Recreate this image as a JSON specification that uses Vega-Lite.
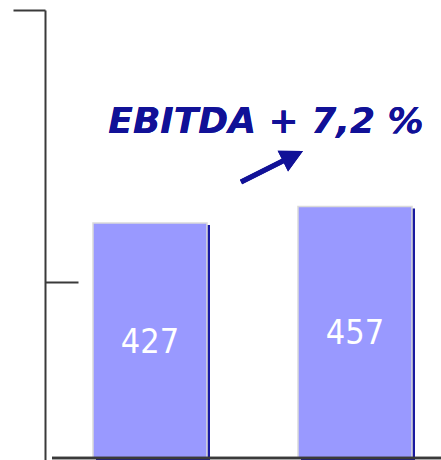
{
  "$schema": "https://vega.github.io/schema/vega-lite/v6.json",
  "autosize": "none",
  "width": 389,
  "height": 450,
  "padding": {"left": 52, "top": 10, "right": 0, "bottom": 0},
  "background": "white",
  "config": {"view": {"stroke": null}},
  "data": {"values": [
    {"period": "Vorjahr", "ebitda": 427},
    {"period": "Aktuell", "ebitda": 457}
  ]},
  "resolve": {"scale": {"y": "independent"}},
  "layer": [
    {
      "layer": [
        {
          "mark": {"type": "bar", "color": "#1a1aa0", "xOffset": 3, "yOffset": 2},
          "encoding": {
            "x": {"field": "period", "type": "nominal", "sort": null, "axis": null,
                  "scale": {"range": [41, 360], "paddingInner": 0.4439, "paddingOuter": 0}},
            "y": {"field": "ebitda", "type": "quantitative",
                  "scale": {"domain": [-3.6, 814], "nice": false, "zero": false},
                  "axis": {"orient": "left", "offset": 7, "values": [320, 814], "labels": false, "grid": false, "title": null,
                           "domainColor": "#3a3a3a", "domainWidth": 2,
                           "tickColor": "#3a3a3a", "tickWidth": 2,
                           "tickSize": {"condition": {"test": "datum.value > 500", "value": 32}, "value": -33}}}
          }
        },
        {
          "mark": {"type": "bar", "color": "#9999ff", "stroke": "#dadada", "strokeWidth": 1.5},
          "encoding": {
            "x": {"field": "period", "type": "nominal", "sort": null},
            "y": {"field": "ebitda", "type": "quantitative"}
          }
        },
        {
          "mark": {"type": "rule", "color": "#3a3a3a", "strokeWidth": 2.5},
          "encoding": {"y": {"datum": 0}}
        },
        {
          "mark": {"type": "text", "text": "EBITDA + 7,2 %", "font": "DejaVu Sans", "fontSize": 36, "fontWeight": "bold", "fontStyle": "italic",
                   "color": "#111197", "align": "center", "baseline": "alphabetic", "xOffset": -89},
          "encoding": {
            "x": {"datum": "Aktuell"},
            "y": {"datum": 590}
          }
        },
        {
          "mark": {"type": "point", "shape": "M-1,-0.072 L0.35,-0.072 L0.35,-0.335 L1,0 L0.35,0.335 L0.35,0.072 L-1,0.072 Z",
                   "filled": true, "opacity": 1, "color": "#111197", "size": 4802, "angle": -26.6, "xOffset": -83},
          "encoding": {
            "x": {"datum": "Aktuell"},
            "y": {"datum": 529.6}
          }
        }
      ]
    },
    {
      "mark": {"type": "text", "color": "white", "font": "DejaVu Sans Condensed", "fontSize": 34,
               "align": "center", "baseline": "middle", "dy": 2},
      "encoding": {
        "x": {"field": "period", "type": "nominal", "sort": null},
        "y": {"field": "ebitda", "type": "quantitative", "axis": null,
              "scale": {"domain": [-7.2, 1628], "nice": false, "zero": false}},
        "text": {"field": "ebitda", "type": "quantitative"}
      }
    }
  ]
}
